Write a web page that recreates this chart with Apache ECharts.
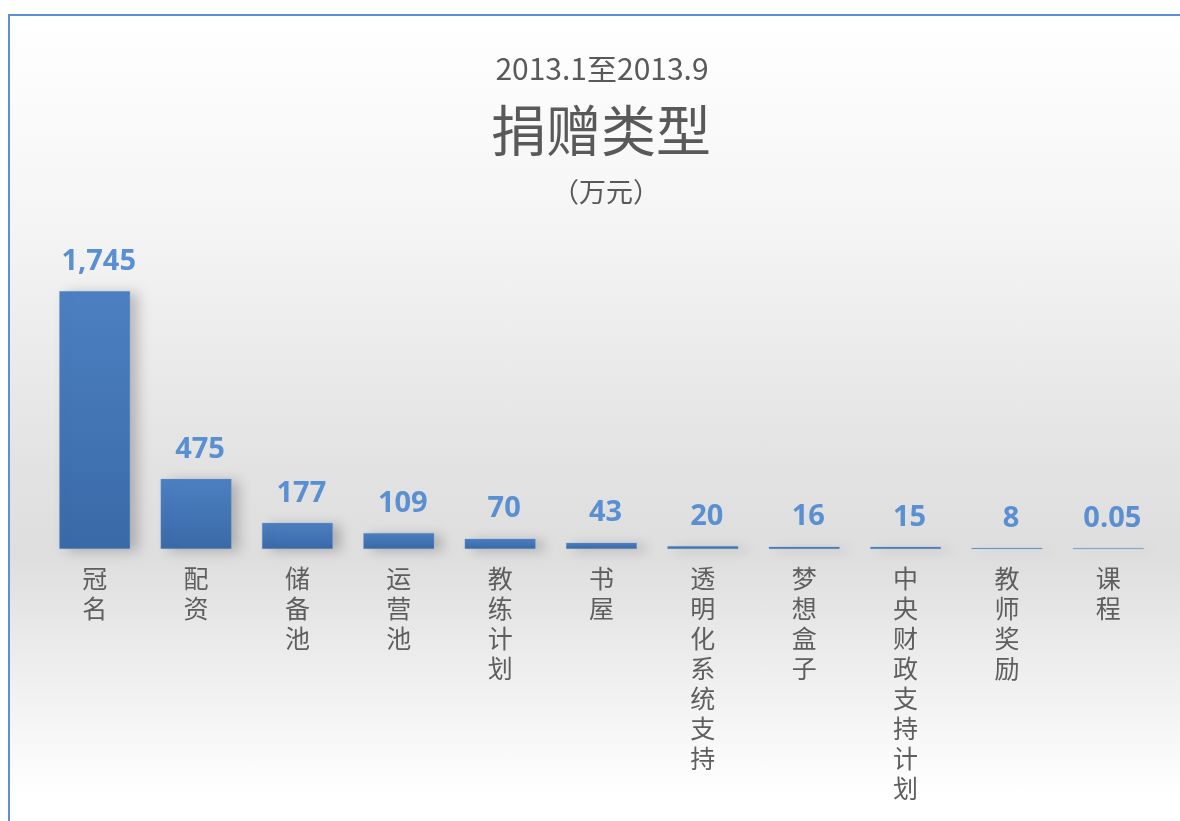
<!DOCTYPE html>
<html>
<head>
<meta charset="utf-8">
<script src="https://cdn.jsdelivr.net/npm/echarts@6/dist/echarts.min.js"></script>
<style>
  body { margin: 0; background: #fff; }
  #frame {
    position: absolute;
    left: 8px;
    top: 14px;
    width: 1170px;
    height: 805px;
    border-top: 2px solid #5b8fd8;
    border-left: 2px solid #5b8fd8;
    background: linear-gradient(to bottom, #ffffff 0%, #f5f5f5 25%, #e3e3e3 55%, #dedede 67%, #efefef 82%, #ffffff 97%);
  }
  #main {
    position: absolute;
    left: 0;
    top: 0;
    width: 1180px;
    height: 821px;
  }
</style>
</head>
<body>
<div id="frame"></div>
<div id="main"></div>
<script>
  var categories = ['冠名', '配资', '储备池', '运营池', '教练计划', '书屋', '透明化系统支持', '梦想盒子', '中央财政支持计划', '教师奖励', '课程']
  var values = [1745, 475, 177, 109, 70, 43, 20, 16, 15, 8, 0.05]

  var myChart = echarts.init(document.getElementById('main'))
  var titleFont = '"Noto Sans CJK SC", "Noto Sans", sans-serif'

  myChart.setOption({
    backgroundColor: 'transparent',
    graphic: [
      { type: 'text', x: 602, y: 69, style: { text: '2013.1至2013.9', textAlign: 'center', textVerticalAlign: 'middle', font: '30px ' + titleFont, fill: '#595959' } },
      { type: 'text', x: 601, y: 130, style: { text: '捐赠类型', textAlign: 'center', textVerticalAlign: 'middle', font: '55px ' + titleFont, fill: '#595959' } },
      { type: 'text', x: 606, y: 192, style: { text: '（万元）', textAlign: 'center', textVerticalAlign: 'middle', font: '27px ' + titleFont, fill: '#595959' } }
    ],
    grid: {
      left: 44,
      right: 21,
      top: 291,
      bottom: 272
    },
    xAxis: {
      type: 'category',
      data: categories,
      axisLine: { show: false },
      axisTick: { show: false },
      axisLabel: {
        interval: 0,
        margin: 14,
        color: '#5e5e5e',
        fontSize: 25,
        lineHeight: 30,
        fontFamily: titleFont,
        formatter: function (v) { return v.split('').join('\n') }
      }
    },
    yAxis: {
      type: 'value',
      min: 0,
      max: 1745,
      show: false,
      splitLine: { show: false }
    },
    series: [
      {
        type: 'bar',
        data: values,
        barCategoryGap: '30%',
        barMinHeight: 1,
        itemStyle: {
          color: new echarts.graphic.LinearGradient(0, 0, 0, 1, [
            { offset: 0, color: '#4c80c1' },
            { offset: 1, color: '#3a69a7' }
          ]),
          borderColor: 'rgba(120,160,210,0.6)',
          borderWidth: 0.5,
          shadowColor: 'rgba(0,0,0,0.22)',
          shadowBlur: 12,
          shadowOffsetX: 8,
          shadowOffsetY: 2
        },
        label: {
          show: true,
          position: 'top',
          distance: 15,
          offset: [4, 0],
          color: '#5a8fd2',
          fontSize: 29,
          fontWeight: 'bold',
          fontFamily: '"Open Sans", "Noto Sans", sans-serif',
          formatter: function (p) { return p.value.toLocaleString('en-US') }
        }
      }
    ]
  })
</script>
</body>
</html>
